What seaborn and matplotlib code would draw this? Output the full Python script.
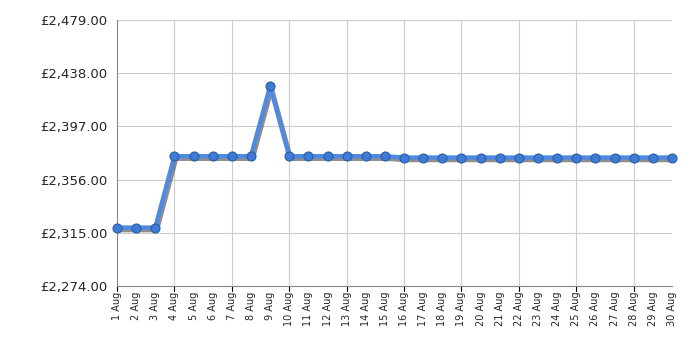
import matplotlib
matplotlib.use("Agg")
import matplotlib.pyplot as plt
import matplotlib.patheffects as pe
import seaborn as sns
import pandas as pd
import numpy as np

days = list(range(1, 31))
labels = [f"{d} Aug" for d in days]
prices = [2319, 2319, 2319, 2374, 2374, 2374, 2374, 2374, 2428,
          2374, 2374, 2374, 2374, 2374, 2374,
          2373, 2373, 2373, 2373, 2373, 2373, 2373, 2373, 2373, 2373,
          2373, 2373, 2373, 2373, 2373]
yticks = [2274, 2315, 2356, 2397, 2438, 2479]

df = pd.DataFrame({"idx": np.arange(len(days)), "price": prices})

sns.set_style("white")
plt.rcParams['font.family'] = ['DejaVu Sans']

fig = plt.figure(figsize=(7, 3.5), dpi=100)
ax = fig.add_axes([117/700, 1-286/350, (672-117)/700, (286-20)/350])

# line with shadow
sns.lineplot(data=df, x="idx", y="price", ax=ax, color="#4f8ae0", lw=3.2,
             path_effects=[pe.SimpleLineShadow(offset=(1.2, -1.8), shadow_color="#333333", alpha=0.55), pe.Normal()],
             zorder=5, clip_on=False)
# markers
sns.scatterplot(data=df, x="idx", y="price", ax=ax, color="#3f7bd4", s=42,
                edgecolor="#2a5ca8", linewidth=0.8, zorder=6, clip_on=False)

ax.set_xlim(0, len(days) - 1)
ax.set_ylim(yticks[0], yticks[-1])
ax.set_yticks(yticks)
ax.set_yticklabels([f"£{v:,.2f}" for v in yticks], fontsize=9.5)
ax.set_xticks(np.arange(len(days)))
ax.set_xticklabels(labels, rotation=90, fontsize=7)
ax.set_xlabel("")
ax.set_ylabel("")

ax.grid(False)
for v in yticks:
    ax.axhline(v, color="#cccccc", lw=0.8, zorder=0)
for i in range(0, len(days), 3):
    ax.axvline(i, color="#cccccc", lw=0.8, zorder=0)

for s in ["top", "right"]:
    ax.spines[s].set_visible(False)
ax.spines["left"].set_color("#888888")
ax.spines["bottom"].set_color("#888888")
ax.tick_params(axis="y", length=5, color="black", pad=2)
ax.tick_params(axis="x", length=0, pad=4)
for i in range(0, len(days), 3):
    ax.plot([i, i], [0, -0.02], transform=ax.get_xaxis_transform(), color="black", lw=0.8, clip_on=False)

fig.savefig("out.png", dpi=100)
